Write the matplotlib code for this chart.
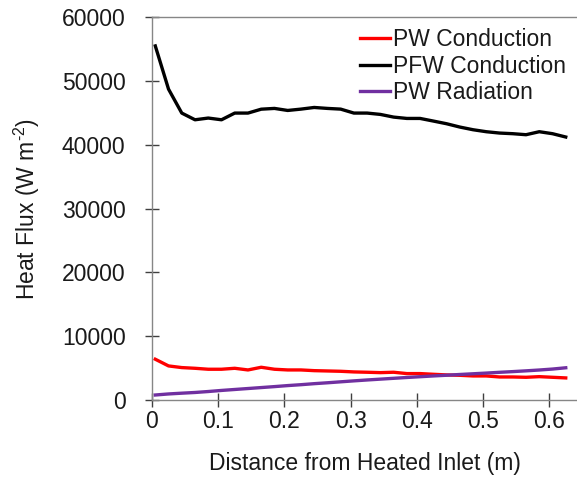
import matplotlib.pyplot as plt
import numpy as np

plt.rcParams['font.family'] = ['Liberation Sans', 'DejaVu Sans']
plt.rcParams['mathtext.default'] = 'regular'

# Distance from heated inlet (m)
distance = [0.005, 0.025, 0.045, 0.065, 0.085, 0.105, 0.125, 0.145, 0.165, 0.185,
            0.205, 0.225, 0.245, 0.265, 0.285, 0.305, 0.325, 0.345, 0.365, 0.385,
            0.405, 0.425, 0.445, 0.465, 0.485, 0.505, 0.525, 0.545, 0.565, 0.585,
            0.605, 0.625]

# Heat flux (W m^-2)
pw_conduction = [6390, 5340, 5080, 4970, 4820, 4820, 4970, 4710, 5130, 4820,
                 4710, 4710, 4600, 4550, 4500, 4400, 4350, 4290, 4350, 4140,
                 4140, 4030, 3930, 3870, 3770, 3770, 3610, 3610, 3560, 3660,
                 3560, 3460]
pfw_conduction = [55470, 48700, 44950, 43900, 44170, 43900, 44950, 44950, 45560, 45680,
                  45360, 45570, 45830, 45680, 45570, 44950, 44950, 44740, 44320, 44110,
                  44110, 43700, 43280, 42760, 42340, 42030, 41820, 41720, 41560, 42030,
                  41720, 41200]
pw_radiation = [785, 950, 1070, 1180, 1330, 1500, 1650, 1800, 1950, 2100,
                2260, 2400, 2560, 2700, 2850, 3000, 3140, 3270, 3400, 3530,
                3650, 3770, 3880, 4000, 4110, 4220, 4340, 4450, 4570, 4700,
                4850, 5050]

fig = plt.figure(figsize=(5.77, 4.79), dpi=100)
ax = fig.add_axes([0.2634, 0.1649, 0.7366, 0.7996])

ax.plot(distance, pw_conduction, color='#ff0000', lw=2.4, label='PW Conduction')
ax.plot(distance, pfw_conduction, color='black', lw=2.4, label='PFW Conduction')
ax.plot(distance, pw_radiation, color='#7030a0', lw=2.4, label='PW Radiation')

ax.set_xlim(0, 0.642)
ax.set_ylim(0, 60000)
ax.set_xticks(np.arange(0, 0.61, 0.1))
ax.set_xticklabels(['0', '0.1', '0.2', '0.3', '0.4', '0.5', '0.6'])
ax.set_yticks(range(0, 60001, 10000))

for side in ['left', 'bottom', 'top']:
    ax.spines[side].set_color('#868686')
    ax.spines[side].set_linewidth(1.0)
ax.spines['right'].set_visible(False)

ax.tick_params(direction='inout', length=10, width=1.0, color='#404040',
               labelsize=16.5, labelcolor='#1a1a1a')
ax.tick_params(axis='y', pad=14)
ax.tick_params(axis='x', pad=2)

ax.set_xlabel('Distance from Heated Inlet (m)', fontsize=16.5, color='#1a1a1a', labelpad=14)
ax.set_ylabel('Heat Flux (W m$^{\u20102}$)', fontsize=16.5, color='#1a1a1a', labelpad=14)

ax.legend(loc='upper right', bbox_to_anchor=(1.0, 1.0), frameon=False, fontsize=16.5,
          handlelength=1.3, handletextpad=0.1, labelspacing=0.15, borderaxespad=0.1,
          labelcolor='#1a1a1a')

fig.savefig('out.png', dpi=100)
